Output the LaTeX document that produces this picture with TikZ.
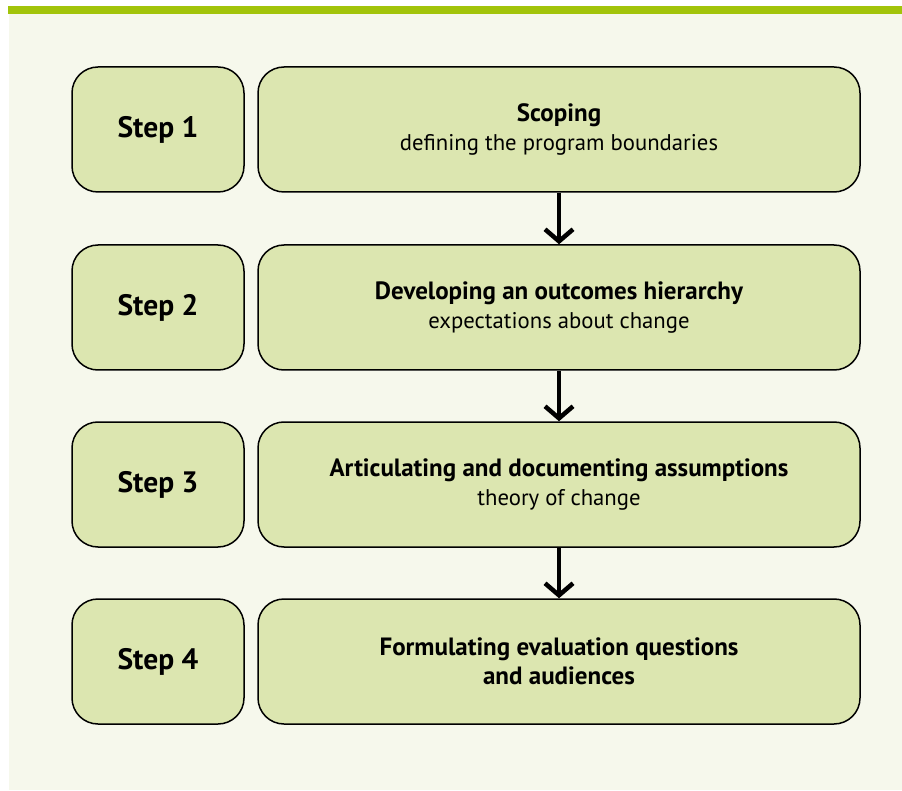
\documentclass[tikz,border=0pt]{standalone}
\usepackage{fontspec}
\setmainfont{PT Sans}
\usetikzlibrary{arrows.meta}
\definecolor{bgc}{HTML}{F6F8EC}
\definecolor{barc}{HTML}{A2C40A}
\definecolor{boxc}{HTML}{DCE6B0}
\newcommand{\ttl}[1]{{\fontsize{25}{29}\selectfont\bfseries #1}}
\tikzset{
  stepbox/.style={draw=black, line width=1.5pt, fill=boxc, rounded corners=26pt,
    minimum width=172pt, minimum height=125pt, inner sep=0pt,
    font=\fontsize{29.5}{34}\selectfont\bfseries},
  mainbox/.style={draw=black, line width=1.5pt, fill=boxc, rounded corners=26pt,
    minimum width=602pt, minimum height=125pt, inner sep=0pt, align=center,
    font=\fontsize{22.7}{29}\selectfont},
  flowarrow/.style={line width=4.5pt, -{Straight Barb[length=12pt,width=28pt]}}
}
\begin{document}
\begin{tikzpicture}[x=1pt,y=-1pt]
\useasboundingbox (0,0) rectangle (902,791);
\fill[white] (0,0) rectangle (902,791);
\fill[bgc] (9,14) rectangle (902,790);
\fill[barc] (8,6) rectangle (902,14);

\node[stepbox] (s1) at (158,129.5) {Step 1};
\node[stepbox] (s2) at (158,307.5) {Step 2};
\node[stepbox] (s3) at (158,484.5) {Step 3};
\node[stepbox] (s4) at (158,661.5) {Step 4};

\node[mainbox] (m1) at (559,129.5) {\ttl{Scoping}\\defining the program boundaries};
\node[mainbox] (m2) at (559,307.5) {\ttl{Developing an outcomes hierarchy}\\expectations about change};
\node[mainbox] (m3) at (559,484.5) {\ttl{Articulating and documenting assumptions}\\theory of change};
\node[mainbox] (m4) at (559,661.5) {\ttl{Formulating evaluation questions}\\\ttl{and audiences}};

\draw[flowarrow] (m1.south) -- (m2.north);
\draw[flowarrow] (m2.south) -- (m3.north);
\draw[flowarrow] (m3.south) -- (m4.north);
\end{tikzpicture}
\end{document}
